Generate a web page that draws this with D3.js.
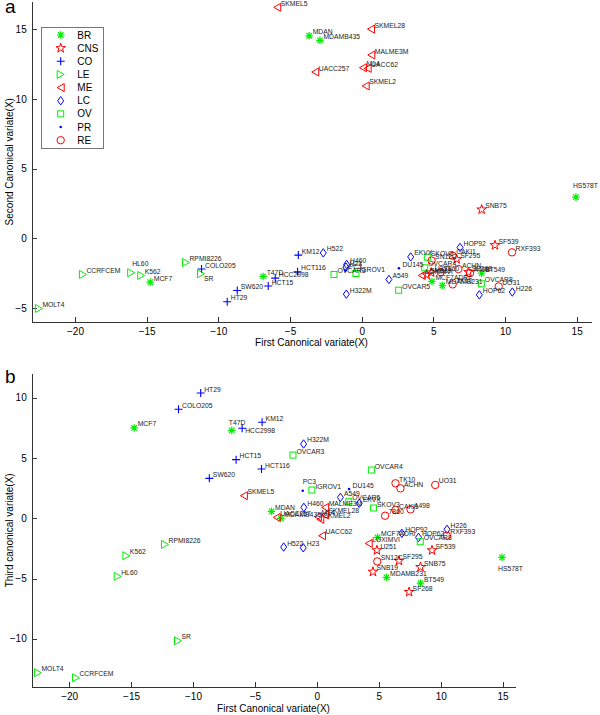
<!DOCTYPE html>
<html><head><meta charset="utf-8">
<script src="https://cdn.jsdelivr.net/npm/d3@7"></script>
<style>
html,body{margin:0;padding:0;background:#fff;}
svg{display:block;}
text{font-family:"Liberation Sans",Arial,sans-serif;}
</style></head>
<body>
<svg id="chart" width="600" height="715"></svg>
<script>
// ---- data ----
const groupOrder = ["BR","CNS","CO","LE","ME","LC","OV","PR","RE"];
const names = [
 "MCF7","MCF7ADRr","MDAMB231","HS578T","BT549","T47D","MDAMB435","MDAN",
 "SF268","SF295","SF539","SNB19","SNB75","U251",
 "COLO205","HCC2998","HCT116","HCT15","HT29","KM12","SW620",
 "CCRFCEM","HL60","K562","MOLT4","RPMI8226","SR",
 "LOXIMVI","MALME3M","M14","SKMEL2","SKMEL28","SKMEL5","UACC257","UACC62",
 "A549","EKVX","HOP62","HOP92","H226","H23","H322M","H460","H522",
 "IGROV1","OVCAR3","OVCAR4","OVCAR5","OVCAR8","SKOV3",
 "PC3","DU145",
 "7860","A498","ACHN","CAKI1","RXF393","SN12C","TK10","UO31"];
const groups = [
 "BR","BR","BR","BR","BR","BR","BR","BR",
 "CNS","CNS","CNS","CNS","CNS","CNS",
 "CO","CO","CO","CO","CO","CO","CO",
 "LE","LE","LE","LE","LE","LE",
 "ME","ME","ME","ME","ME","ME","ME","ME",
 "LC","LC","LC","LC","LC","LC","LC","LC","LC",
 "OV","OV","OV","OV","OV","OV",
 "PR","PR",
 "RE","RE","RE","RE","RE","RE","RE","RE"];
const cv1 = [
 -14.75,4.90,5.63,14.95,8.37,-6.87,-2.91,-3.66,
 7.45,6.63,9.30,4.53,8.37,4.85,
 -11.17,-6.03,-4.47,-6.52,-9.38,-4.42,-8.68,
 -19.45,-16.08,-15.38,-22.52,-12.26,-11.21,
 4.19,0.67,0.09,0.28,0.65,-5.89,-3.24,0.42,
 1.90,3.42,8.21,6.86,10.51,-1.10,-1.07,-1.05,-2.68,
 -0.40,-1.93,4.40,2.58,8.35,4.58,
 -1.14,2.60,
 5.51,7.56,6.75,6.35,10.49,4.88,6.35,9.56];
const cv2 = [
 -3.14,-3.09,-3.38,2.96,-2.49,-2.73,14.21,14.54,
 -2.42,-1.49,-0.49,-2.61,2.07,-2.45,
 -2.20,-2.85,-2.40,-3.42,-4.55,-1.20,-3.74,
 -2.59,-2.47,-2.66,-5.03,-1.73,-2.54,
 -2.66,13.16,12.25,10.94,15.02,16.58,11.94,12.20,
 -2.95,-1.33,-4.05,-0.65,-3.85,-2.06,-4.00,-1.87,-1.04,
 -2.52,-2.59,-2.11,-3.72,-3.26,-1.35,
 -2.30,-2.14,
 -2.42,-2.49,-2.20,-1.25,-1.00,-1.59,-3.30,-3.45];
const cv3 = [
 7.49,-1.59,-4.90,-3.25,-5.38,7.29,-0.01,0.57,
 -6.12,-3.53,-2.66,-4.44,-4.05,-2.66,
 9.04,7.46,4.08,4.86,10.39,7.96,3.31,
 -13.24,-4.82,-3.11,-12.82,-2.17,-10.17,
 -2.09,0.90,0.12,-0.09,0.27,1.87,0.07,-1.45,
 1.73,1.24,-1.59,-1.25,-0.92,-2.45,6.16,0.90,-2.39,
 2.34,5.24,4.00,1.37,-1.95,0.85,
 2.28,2.42,
 0.21,0.74,2.48,0.68,-1.45,-3.58,2.90,2.76];
const xTicks = [-20,-15,-10,-5,0,5,10,15];
const yTicksA = [-5,0,5,10,15];
const yTicksB = [-10,-5,0,5,10];

// ---- styles ----
const GREEN = "#00f000", RED = "#ff0000", BLUE = "#0000ff";
const style = {
  BR:{c:GREEN,m:"asterisk"}, CNS:{c:RED,m:"star"}, CO:{c:BLUE,m:"plus"},
  LE:{c:GREEN,m:"tright"}, ME:{c:RED,m:"tleft"}, LC:{c:BLUE,m:"diamond"},
  OV:{c:GREEN,m:"square"}, PR:{c:BLUE,m:"dot"}, RE:{c:RED,m:"circle"}
};
const labelAdjA = {HL60:[1,-7], SR:[3,7], HS578T:[-3,-9]};
const labelAdjB = {HS578T:[-4,14], T47D:[-3,-5], HCC2998:[3,5], PC3:[0,-7]};

const svg = d3.select("#chart");
const rows = names.map((n,i)=>({name:n, g:groups[i], x:cv1[i], y2:cv2[i], y3:cv3[i]}));

function drawMarker(sel, type, color){
  const sw = 1;
  if(type==="asterisk"){
    const r=3.8, d=r*0.72;
    sel.append("path").attr("d",`M${-r},0L${r},0M0,${-r}L0,${r}M${-d},${-d}L${d},${d}M${-d},${d}L${d},${-d}`)
      .attr("stroke",color).attr("stroke-width",1.2).attr("fill","none");
  } else if(type==="star"){
    sel.append("path").attr("d",d3.symbol(d3.symbolStar,28)()).attr("stroke",color).attr("stroke-width",sw).attr("fill","none");
  } else if(type==="plus"){
    const r=4;
    sel.append("path").attr("d",`M${-r},0L${r},0M0,${-r}L0,${r}`).attr("stroke",color).attr("stroke-width",1.1).attr("fill","none");
  } else if(type==="tright"){
    sel.append("path").attr("d","M-3.5,-4L3.5,0L-3.5,4Z").attr("stroke",color).attr("stroke-width",sw).attr("fill","none");
  } else if(type==="tleft"){
    sel.append("path").attr("d","M3.5,-4L-3.5,0L3.5,4Z").attr("stroke",color).attr("stroke-width",sw).attr("fill","none");
  } else if(type==="diamond"){
    sel.append("path").attr("d","M0,-4.2L3,0L0,4.2L-3,0Z").attr("stroke",color).attr("stroke-width",sw).attr("fill","none");
  } else if(type==="square"){
    sel.append("rect").attr("x",-3).attr("y",-3).attr("width",6).attr("height",6).attr("stroke",color).attr("stroke-width",sw).attr("fill","none");
  } else if(type==="dot"){
    sel.append("circle").attr("r",1.3).attr("fill",color);
  } else if(type==="circle"){
    sel.append("circle").attr("r",3.7).attr("stroke",color).attr("stroke-width",sw).attr("fill","none");
  }
}

function panel(cfg){
  const x = d3.scaleLinear().domain([-23,16]).range([cfg.left,cfg.right]);
  const y = d3.scaleLinear().domain(cfg.ydom).range([cfg.bottom,cfg.top]);
  const gx = svg.append("g").attr("transform",`translate(0,${cfg.bottom})`)
    .call(d3.axisBottom(x).tickValues(xTicks).tickSizeInner(-5).tickSizeOuter(0).tickPadding(5.5));
  const gy = svg.append("g").attr("transform",`translate(${cfg.left},0)`)
    .call(d3.axisLeft(y).tickValues(cfg.yticks).tickSizeInner(-5).tickSizeOuter(0).tickPadding(5.3));
  [gx,gy].forEach(g=>{
    g.selectAll("path,line").attr("stroke","#333").attr("shape-rendering","crispEdges");
    g.selectAll("text").attr("font-size","10px").attr("fill","#000").attr("font-family","'Liberation Sans',Arial,sans-serif");
  });
  svg.append("text").attr("x",(cfg.left+cfg.right)/2).attr("y",cfg.xlabY).attr("text-anchor","middle")
    .attr("font-size","10px").text("First Canonical variate(X)");
  svg.append("text").attr("transform",`translate(12.5,${(cfg.top+cfg.bottom)/2}) rotate(-90)`).attr("text-anchor","middle")
    .attr("font-size","10px").text(cfg.ylab);
  svg.append("text").attr("x",5).attr("y",cfg.letterY).attr("font-family","'Liberation Serif','Times New Roman',serif")
    .attr("font-size","19px").text(cfg.letter);
  const pts = svg.append("g");
  rows.forEach(d=>{
    const px = x(d.x), py = y(d[cfg.key]);
    const s = style[d.g];
    drawMarker(pts.append("g").attr("transform",`translate(${px},${py})`), s.m, s.c);
  });
  const labs = svg.append("g");
  rows.forEach(d=>{
    const px = x(d.x), py = y(d[cfg.key]);
    const adj = cfg.adj[d.name] || [3.5,-1.5];
    labs.append("text").attr("x",px+adj[0]).attr("y",py+adj[1]).attr("font-size","6.8px").attr("fill","#1a1a1a").text(d.name);
  });
}

panel({left:32,right:591,top:1.5,bottom:322,ydom:[-6,17],yticks:yTicksA,key:"y2",
  ylab:"Second Canonical variate(X)",xlabY:345.5,letter:"a",letterY:13,adj:labelAdjA});
panel({left:32,right:515,top:373.6,bottom:687,ydom:[-14,12],yticks:yTicksB,key:"y3",
  ylab:"Third canonical variate(X)",xlabY:711.5,letter:"b",letterY:383,adj:labelAdjB});

// ---- legend ----
const lg = svg.append("g");
lg.append("rect").attr("x",41.5).attr("y",27.5).attr("width",62).attr("height",120.5)
  .attr("fill","#fff").attr("stroke","#777").attr("stroke-width",1).attr("shape-rendering","crispEdges");
groupOrder.forEach((g,i)=>{
  const yy = 35 + i*13.15;
  drawMarker(lg.append("g").attr("transform",`translate(60.7,${yy})`), style[g].m, style[g].c);
  lg.append("text").attr("x",77.3).attr("y",yy).attr("dy","0.35em").attr("font-size","10px").attr("fill","#000").text(g);
});
</script>
</body></html>
